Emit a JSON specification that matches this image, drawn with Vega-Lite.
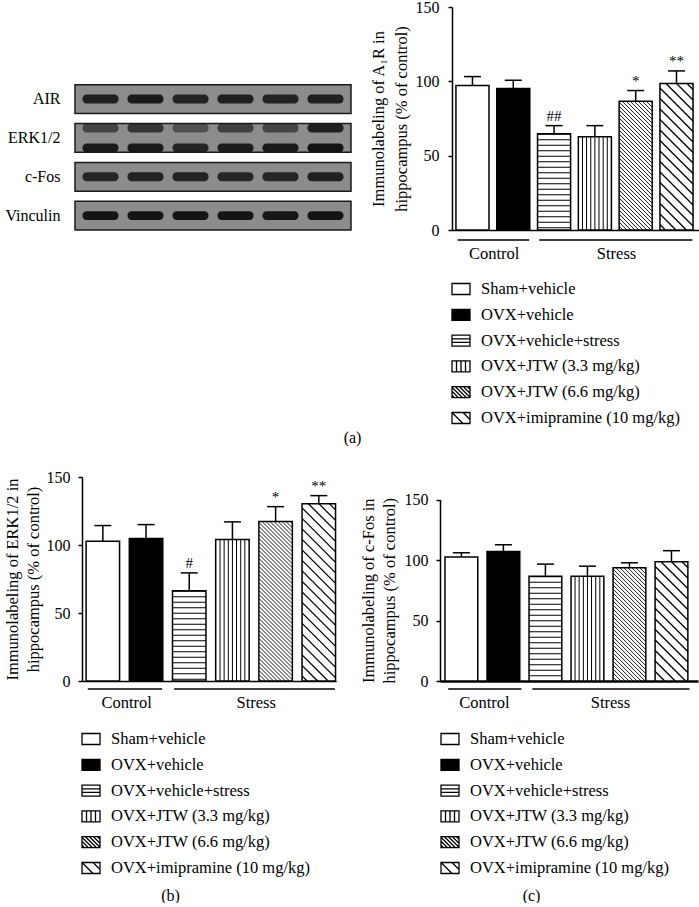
{
"$schema":"https://vega.github.io/schema/vega-lite/v6.json",
"padding":{"left":4,"top":-1,"right":0,"bottom":0},
"datasets":{
 "A":[
  {"group":"Sham+vehicle","value":97.2,"err":103.2,"sig":""},
  {"group":"OVX+vehicle","value":95.1,"err":100.7,"sig":""},
  {"group":"OVX+vehicle+stress","value":64.8,"err":70.2,"sig":"##"},
  {"group":"OVX+JTW (3.3 mg/kg)","value":62.7,"err":70.2,"sig":""},
  {"group":"OVX+JTW (6.6 mg/kg)","value":86.6,"err":93.8,"sig":"*"},
  {"group":"OVX+imipramine (10 mg/kg)","value":98.5,"err":107,"sig":"**"}
 ],
 "B":[
  {"group":"Sham+vehicle","value":102.8,"err":114.3,"sig":""},
  {"group":"OVX+vehicle","value":104.7,"err":115,"sig":""},
  {"group":"OVX+vehicle+stress","value":66.3,"err":79.5,"sig":"#"},
  {"group":"OVX+JTW (3.3 mg/kg)","value":104,"err":117,"sig":""},
  {"group":"OVX+JTW (6.6 mg/kg)","value":117.2,"err":128.2,"sig":"*"},
  {"group":"OVX+imipramine (10 mg/kg)","value":130.4,"err":136.3,"sig":"**"}
 ],
 "C":[
  {"group":"Sham+vehicle","value":102.4,"err":106,"sig":""},
  {"group":"OVX+vehicle","value":107.1,"err":112.6,"sig":""},
  {"group":"OVX+vehicle+stress","value":86.6,"err":96.6,"sig":""},
  {"group":"OVX+JTW (3.3 mg/kg)","value":86.6,"err":94.9,"sig":""},
  {"group":"OVX+JTW (6.6 mg/kg)","value":93.5,"err":97.7,"sig":""},
  {"group":"OVX+imipramine (10 mg/kg)","value":98.5,"err":107.7,"sig":""}
 ],
 "conds":[
  {"cond":"Control","first":"Sham+vehicle","last":"OVX+vehicle","anchor":"OVX+vehicle"},
  {"cond":"Stress","first":"OVX+vehicle+stress","last":"OVX+imipramine (10 mg/kg)","anchor":"OVX+JTW (6.6 mg/kg)"}
 ],
 "prot":[{"protein":"AIR"},{"protein":"ERK1/2"},{"protein":"c-Fos"},{"protein":"Vinculin"}],
 "blot":[
  {"protein":"AIR","lane":1,"sub":"m","intensity":0.9},
  {"protein":"AIR","lane":2,"sub":"m","intensity":0.95},
  {"protein":"AIR","lane":3,"sub":"m","intensity":0.88},
  {"protein":"AIR","lane":4,"sub":"m","intensity":0.9},
  {"protein":"AIR","lane":5,"sub":"m","intensity":0.88},
  {"protein":"AIR","lane":6,"sub":"m","intensity":0.9},
  {"protein":"ERK1/2","lane":1,"sub":"t","intensity":0.6},
  {"protein":"ERK1/2","lane":2,"sub":"t","intensity":0.72},
  {"protein":"ERK1/2","lane":3,"sub":"t","intensity":0.5},
  {"protein":"ERK1/2","lane":4,"sub":"t","intensity":0.62},
  {"protein":"ERK1/2","lane":5,"sub":"t","intensity":0.6},
  {"protein":"ERK1/2","lane":6,"sub":"t","intensity":0.9},
  {"protein":"ERK1/2","lane":1,"sub":"b","intensity":0.95},
  {"protein":"ERK1/2","lane":2,"sub":"b","intensity":0.95},
  {"protein":"ERK1/2","lane":3,"sub":"b","intensity":0.88},
  {"protein":"ERK1/2","lane":4,"sub":"b","intensity":0.92},
  {"protein":"ERK1/2","lane":5,"sub":"b","intensity":0.95},
  {"protein":"ERK1/2","lane":6,"sub":"b","intensity":1},
  {"protein":"c-Fos","lane":1,"sub":"m","intensity":0.85},
  {"protein":"c-Fos","lane":2,"sub":"m","intensity":0.88},
  {"protein":"c-Fos","lane":3,"sub":"m","intensity":0.88},
  {"protein":"c-Fos","lane":4,"sub":"m","intensity":0.85},
  {"protein":"c-Fos","lane":5,"sub":"m","intensity":0.85},
  {"protein":"c-Fos","lane":6,"sub":"m","intensity":0.9},
  {"protein":"Vinculin","lane":1,"sub":"m","intensity":1},
  {"protein":"Vinculin","lane":2,"sub":"m","intensity":1},
  {"protein":"Vinculin","lane":3,"sub":"m","intensity":1},
  {"protein":"Vinculin","lane":4,"sub":"m","intensity":1},
  {"protein":"Vinculin","lane":5,"sub":"m","intensity":0.98},
  {"protein":"Vinculin","lane":6,"sub":"m","intensity":1}
 ]
},
"vconcat":[
 {"hconcat":[
  {"width":276,"height":223,
   "data":{"name":"blot"},
   "layer":[
    {"data":{"name":"prot"},
     "mark":{"type":"rect","fill":"#8c8c8c","stroke":"#1a1a1a","strokeWidth":1.5},
     "encoding":{"y":{"field":"protein","type":"nominal","scale":{"domain":["AIR","ERK1/2","c-Fos","Vinculin"],"paddingInner":0.26,"paddingOuter":1.185,"align":1},"axis":{"title":null,"domain":false,"ticks":false,"labelPadding":15}}}},
    {"mark":{"type":"rect","color":"#141414","cornerRadius":4},
     "encoding":{
      "x":{"field":"lane","type":"nominal","scale":{"paddingInner":0.2,"paddingOuter":0.167},"axis":null},
      "y":{"field":"protein","type":"nominal"},
      "yOffset":{"field":"sub","type":"nominal","scale":{"domain":["t","m","b"],"paddingInner":0.1}},
      "opacity":{"field":"intensity","type":"quantitative","scale":{"domain":[0,1],"range":[0,1]},"legend":null}}}
   ]},
  {"width":249,"height":223,
   "data":{"name":"A"},
   "layer":[
    {"mark":{"type":"bar","stroke":"black","strokeWidth":1.5},
     "encoding":{
      "x":{"field":"group","type":"nominal","scale":{"domain":["Sham+vehicle","OVX+vehicle","OVX+vehicle+stress","OVX+JTW (3.3 mg/kg)","OVX+JTW (6.6 mg/kg)","OVX+imipramine (10 mg/kg)"],"paddingInner":0.19,"paddingOuter":0.146,"align":0.33},
           "axis":{"labels":false,"ticks":false,"title":"(a)","titleX":-100,"titleY":207,"titleBaseline":"middle","titleAlign":"center","titleFontSize":16,"domainWidth":1.3}},
      "y":{"field":"value","type":"quantitative","scale":{"domain":[0,150],"nice":false},
           "axis":{"values":[0,50,100,150],"title":["Immunolabeling of A₁R in","hippocampus (% of control)"],"titlePadding":6,"labelPadding":9,"labelFlush":false,"titleLineHeight":23}},
      "fill":{"field":"group","type":"nominal","scale":{"domain":["Sham+vehicle","OVX+vehicle","OVX+vehicle+stress","OVX+JTW (3.3 mg/kg)","OVX+JTW (6.6 mg/kg)","OVX+imipramine (10 mg/kg)"],"range":["white","black","white","white","white","white"]},
              "legend":{"title":null,"orient":"none","legendX":-2,"legendY":271}}}},
    {"transform":[{"filter":"datum.group === 'OVX+vehicle+stress'"}],
     "mark":{"type":"rule","strokeWidth":33,"strokeDash":[1,4.5],"color":"black"},
     "encoding":{"x":{"field":"group","type":"nominal"},"y":{"field":"value","type":"quantitative"},"y2":{"datum":0}}},
    {"transform":[{"filter":"datum.group === 'OVX+JTW (3.3 mg/kg)'"}],
     "mark":{"type":"point","size":4,"filled":false,"stroke":"black","strokeWidth":1,"opacity":1,
       "shape":"M-12.4,0V93.2M-8.3,0V93.2M-4.1,0V93.2M0,0V93.2M4.1,0V93.2M8.3,0V93.2M12.4,0V93.2"},
     "encoding":{"x":{"field":"group","type":"nominal"},"y":{"field":"value","type":"quantitative"}}},
    {"transform":[{"filter":"datum.group === 'OVX+JTW (6.6 mg/kg)'"}],
     "mark":{"type":"point","size":4,"filled":false,"stroke":"black","strokeWidth":0.9,"opacity":1,
       "shape":"M14.5,0L16.5,2M10.5,0L16.5,6M6.5,0L16.5,10M2.5,0L16.5,14M-1.5,0L16.5,18M-5.5,0L16.5,22M-9.5,0L16.5,26M-13.5,0L16.5,30M-16.5,1l33,33m-33,-29l33,33m-33,-29l33,33m-33,-29l33,33m-33,-29l33,33m-33,-29l33,33m-33,-29l33,33m-33,-29l33,33m-33,-29l33,33m-33,-29l33,33m-33,-29l33,33m-33,-29l33,33m-33,-29l33,33m-33,-29l33,33m-33,-29l33,33m-33,-29l33,33m-33,-29l33,33m-33,-29l33,33m-33,-29l33,33m-33,-29l33,33m-33,-29l33,33m-33,-29l33,33m-33,-29l33,33m-33,-29l33,33M-16.5,97L15.2,128.7M-16.5,101L11.2,128.7M-16.5,105L7.2,128.7M-16.5,109L3.2,128.7M-16.5,113L-0.8,128.7M-16.5,117L-4.8,128.7M-16.5,121L-8.8,128.7M-16.5,125L-12.8,128.7"},
     "encoding":{"x":{"field":"group","type":"nominal"},"y":{"field":"value","type":"quantitative"}}},
    {"transform":[{"filter":"datum.group === 'OVX+imipramine (10 mg/kg)'"}],
     "mark":{"type":"point","size":4,"filled":false,"stroke":"black","strokeWidth":1.3,"opacity":1,
       "shape":"M10.5,0L16.5,6M0,0L16.5,16.5M-10.5,0L16.5,27M-16.5,4.5l33,33m-33,-22.5l33,33m-33,-22.5l33,33m-33,-22.5l33,33m-33,-22.5l33,33m-33,-22.5l33,33m-33,-22.5l33,33m-33,-22.5l33,33m-33,-22.5l33,33m-33,-22.5l33,33m-33,-22.5l33,33M-16.5,120L9.9,146.4M-16.5,130.5L-0.6,146.4M-16.5,141L-11.1,146.4"},
     "encoding":{"x":{"field":"group","type":"nominal"},"y":{"field":"value","type":"quantitative"}}},
    {"mark":{"type":"point","size":0,"filled":true,"strokeWidth":0,"opacity":1},
     "encoding":{"x":{"field":"group","type":"nominal"},"y":{"field":"value","type":"quantitative"},
      "fill":{"field":"group","type":"nominal","legend":{"title":null,"orient":"none","legendX":-2,"legendY":271}},
      "shape":{"field":"group","type":"nominal","scale":{"domain":["Sham+vehicle","OVX+vehicle","OVX+vehicle+stress","OVX+JTW (3.3 mg/kg)","OVX+JTW (6.6 mg/kg)","OVX+imipramine (10 mg/kg)"],
        "range":["M-0.9,-0.55H0.9V0.55H-0.9Z","M-0.9,-0.55H0.9V0.55H-0.9Z","M-0.9,-0.55H0.9V0.55H-0.9ZM-0.9,-0.18H0.9M-0.9,0.18H0.9","M-0.9,-0.55H0.9V0.55H-0.9ZM-0.45,-0.55V0.55M0,-0.55V0.55M0.45,-0.55V0.55","M-0.9,-0.55H0.9V0.55H-0.9ZM-0.9,0.3L-0.65,0.55M-0.9,-0.1L-0.25,0.55M-0.9,-0.5L0.15,0.55M-0.55,-0.55L0.55,0.55M-0.15,-0.55L0.9,0.5M0.25,-0.55L0.9,0.1M0.65,-0.55L0.9,-0.3","M-0.9,-0.55H0.9V0.55H-0.9ZM-0.9,-0.55L0.2,0.55M0.2,-0.55L0.9,0.15"]},
        "legend":{"title":null,"orient":"none","legendX":-2,"legendY":271}}}},
    {"mark":{"type":"rule","strokeWidth":1.5,"color":"black"},
     "encoding":{"x":{"field":"group","type":"nominal"},"y":{"field":"value","type":"quantitative"},"y2":{"field":"err"}}},
    {"mark":{"type":"tick","orient":"horizontal","size":17,"thickness":1.5,"color":"black","opacity":1},
     "encoding":{"x":{"field":"group","type":"nominal"},"y":{"field":"err","type":"quantitative"}}},
    {"mark":{"type":"text","baseline":"bottom","dy":-2,"fontSize":15,"fill":"#000000","opacity":1},
     "encoding":{"x":{"field":"group","type":"nominal"},"y":{"field":"err","type":"quantitative"},"text":{"field":"sig"}}},
    {"data":{"name":"conds"},"mark":{"type":"rule","strokeWidth":1.5,"color":"black"},
     "encoding":{"x":{"field":"first","type":"nominal","bandPosition":0.05},"x2":{"field":"last","bandPosition":0.98},"y":{"datum":-6.7}}},
    {"data":{"name":"conds"},"mark":{"type":"text","fontSize":16.5,"baseline":"alphabetic","fill":"#000000"},
     "encoding":{"x":{"field":"anchor","type":"nominal","bandPosition":-0.08},"y":{"datum":-19.3},"text":{"field":"cond"}}}
   ]}
 ],"spacing":101,"bounds":"flush",
 "resolve":{"scale":{"fill":"independent","shape":"independent"}}},
 {"hconcat":[
  {"width":261,"height":204,
   "data":{"name":"B"},
   "layer":[
    {"mark":{"type":"bar","stroke":"black","strokeWidth":1.5},
     "encoding":{
      "x":{"field":"group","type":"nominal","scale":{"domain":["Sham+vehicle","OVX+vehicle","OVX+vehicle+stress","OVX+JTW (3.3 mg/kg)","OVX+JTW (6.6 mg/kg)","OVX+imipramine (10 mg/kg)"],"range":[7,261],"paddingInner":0.225,"paddingOuter":0.053,"align":0.9},
           "axis":{"labels":false,"ticks":false,"title":"(b)","titleX":95,"titleY":214,"titleBaseline":"middle","titleAlign":"center","titleFontSize":16,"domainWidth":1.6}},
      "y":{"field":"value","type":"quantitative","scale":{"domain":[0,150],"nice":false},
           "axis":{"values":[0,50,100,150],"offset":-7,"title":["Immunolabeling of ERK1/2 in","hippocampus (% of control)"],"titlePadding":5,"labelPadding":8,"labelFlush":false,"titleLineHeight":21}},
      "fill":{"field":"group","type":"nominal","scale":{"domain":["Sham+vehicle","OVX+vehicle","OVX+vehicle+stress","OVX+JTW (3.3 mg/kg)","OVX+JTW (6.6 mg/kg)","OVX+imipramine (10 mg/kg)"],"range":["white","black","white","white","white","white"]},
              "legend":{"title":null,"orient":"none","legendX":5,"legendY":251}}}},
    {"transform":[{"filter":"datum.group === 'OVX+vehicle+stress'"}],
     "mark":{"type":"rule","strokeWidth":33.4,"strokeDash":[1,4.5],"color":"black"},
     "encoding":{"x":{"field":"group","type":"nominal"},"y":{"field":"value","type":"quantitative"},"y2":{"datum":0}}},
    {"transform":[{"filter":"datum.group === 'OVX+JTW (3.3 mg/kg)'"}],
     "mark":{"type":"point","size":4,"filled":false,"stroke":"black","strokeWidth":1,"opacity":1,
       "shape":"M-12.4,0V141.4M-8.3,0V141.4M-4.1,0V141.4M0,0V141.4M4.1,0V141.4M8.3,0V141.4M12.4,0V141.4"},
     "encoding":{"x":{"field":"group","type":"nominal"},"y":{"field":"value","type":"quantitative"}}},
    {"transform":[{"filter":"datum.group === 'OVX+JTW (6.6 mg/kg)'"}],
     "mark":{"type":"point","size":4,"filled":false,"stroke":"black","strokeWidth":0.9,"opacity":1,
       "shape":"M14.5,0L16.5,2M10.5,0L16.5,6M6.5,0L16.5,10M2.5,0L16.5,14M-1.5,0L16.5,18M-5.5,0L16.5,22M-9.5,0L16.5,26M-13.5,0L16.5,30M-16.5,1l33,33m-33,-29l33,33m-33,-29l33,33m-33,-29l33,33m-33,-29l33,33m-33,-29l33,33m-33,-29l33,33m-33,-29l33,33m-33,-29l33,33m-33,-29l33,33m-33,-29l33,33m-33,-29l33,33m-33,-29l33,33m-33,-29l33,33m-33,-29l33,33m-33,-29l33,33m-33,-29l33,33m-33,-29l33,33m-33,-29l33,33m-33,-29l33,33m-33,-29l33,33m-33,-29l33,33m-33,-29l33,33m-33,-29l33,33m-33,-29l33,33m-33,-29l33,33m-33,-29l33,33m-33,-29l33,33m-33,-29l33,33m-33,-29l33,33m-33,-29l33,33m-33,-29l33,33M-16.5,129L13.9,159.4M-16.5,133L9.9,159.4M-16.5,137L5.9,159.4M-16.5,141L1.9,159.4M-16.5,145L-2.1,159.4M-16.5,149L-6.1,159.4M-16.5,153L-10.1,159.4M-16.5,157L-14.1,159.4"},
     "encoding":{"x":{"field":"group","type":"nominal"},"y":{"field":"value","type":"quantitative"}}},
    {"transform":[{"filter":"datum.group === 'OVX+imipramine (10 mg/kg)'"}],
     "mark":{"type":"point","size":4,"filled":false,"stroke":"black","strokeWidth":1.3,"opacity":1,
       "shape":"M10.5,0L16.5,6M0,0L16.5,16.5M-10.5,0L16.5,27M-16.5,4.5l33,33m-33,-22.5l33,33m-33,-22.5l33,33m-33,-22.5l33,33m-33,-22.5l33,33m-33,-22.5l33,33m-33,-22.5l33,33m-33,-22.5l33,33m-33,-22.5l33,33m-33,-22.5l33,33m-33,-22.5l33,33m-33,-22.5l33,33m-33,-22.5l33,33m-33,-22.5l33,33M-16.5,151.5L9.3,177.3M-16.5,162L-1.2,177.3M-16.5,172.5L-11.7,177.3"},
     "encoding":{"x":{"field":"group","type":"nominal"},"y":{"field":"value","type":"quantitative"}}},
    {"mark":{"type":"point","size":0,"filled":true,"strokeWidth":0,"opacity":1},
     "encoding":{"x":{"field":"group","type":"nominal"},"y":{"field":"value","type":"quantitative"},
      "fill":{"field":"group","type":"nominal","legend":{"title":null,"orient":"none","legendX":5,"legendY":251}},
      "shape":{"field":"group","type":"nominal","scale":{"domain":["Sham+vehicle","OVX+vehicle","OVX+vehicle+stress","OVX+JTW (3.3 mg/kg)","OVX+JTW (6.6 mg/kg)","OVX+imipramine (10 mg/kg)"],
        "range":["M-0.9,-0.55H0.9V0.55H-0.9Z","M-0.9,-0.55H0.9V0.55H-0.9Z","M-0.9,-0.55H0.9V0.55H-0.9ZM-0.9,-0.18H0.9M-0.9,0.18H0.9","M-0.9,-0.55H0.9V0.55H-0.9ZM-0.45,-0.55V0.55M0,-0.55V0.55M0.45,-0.55V0.55","M-0.9,-0.55H0.9V0.55H-0.9ZM-0.9,0.3L-0.65,0.55M-0.9,-0.1L-0.25,0.55M-0.9,-0.5L0.15,0.55M-0.55,-0.55L0.55,0.55M-0.15,-0.55L0.9,0.5M0.25,-0.55L0.9,0.1M0.65,-0.55L0.9,-0.3","M-0.9,-0.55H0.9V0.55H-0.9ZM-0.9,-0.55L0.2,0.55M0.2,-0.55L0.9,0.15"]},
        "legend":{"title":null,"orient":"none","legendX":5,"legendY":251}}}},
    {"mark":{"type":"rule","strokeWidth":1.5,"color":"black"},
     "encoding":{"x":{"field":"group","type":"nominal"},"y":{"field":"value","type":"quantitative"},"y2":{"field":"err"}}},
    {"mark":{"type":"tick","orient":"horizontal","size":17,"thickness":1.5,"color":"black","opacity":1},
     "encoding":{"x":{"field":"group","type":"nominal"},"y":{"field":"err","type":"quantitative"}}},
    {"mark":{"type":"text","baseline":"bottom","dy":-2,"fontSize":15,"fill":"#000000","opacity":1},
     "encoding":{"x":{"field":"group","type":"nominal"},"y":{"field":"err","type":"quantitative"},"text":{"field":"sig"}}},
    {"data":{"name":"conds"},"mark":{"type":"rule","strokeWidth":1.5,"color":"black"},
     "encoding":{"x":{"field":"first","type":"nominal","bandPosition":0.05},"x2":{"field":"last","bandPosition":0.98},"y":{"datum":-5.9}}},
    {"data":{"name":"conds"},"mark":{"type":"text","fontSize":16.5,"baseline":"alphabetic","fill":"#000000"},
     "encoding":{"x":{"field":"anchor","type":"nominal","bandPosition":-0.08},"y":{"datum":-19.5},"text":{"field":"cond"}}}
   ]},
  {"width":258,"height":204,
   "data":{"name":"C"},
   "layer":[
    {"mark":{"type":"bar","stroke":"black","strokeWidth":1.5},
     "encoding":{
      "x":{"field":"group","type":"nominal","scale":{"domain":["Sham+vehicle","OVX+vehicle","OVX+vehicle+stress","OVX+JTW (3.3 mg/kg)","OVX+JTW (6.6 mg/kg)","OVX+imipramine (10 mg/kg)"],"paddingInner":0.22,"paddingOuter":0.18,"align":0.33},
           "axis":{"labels":false,"ticks":false,"title":"(c)","titleX":91,"titleY":214,"titleBaseline":"middle","titleAlign":"center","titleFontSize":16,"domainWidth":2.4}},
      "y":{"field":"value","type":"quantitative","scale":{"domain":[0,150],"nice":false,"range":[204,22.5]},
           "axis":{"values":[0,50,100,150],"title":["Immunolabeling of c-Fos in","hippocampus (% of control)"],"titlePadding":7,"labelPadding":8,"labelFlush":false,"titleLineHeight":21}},
      "fill":{"field":"group","type":"nominal","scale":{"domain":["Sham+vehicle","OVX+vehicle","OVX+vehicle+stress","OVX+JTW (3.3 mg/kg)","OVX+JTW (6.6 mg/kg)","OVX+imipramine (10 mg/kg)"],"range":["white","black","white","white","white","white"]},
              "legend":{"title":null,"orient":"none","legendX":-1,"legendY":251}}}},
    {"transform":[{"filter":"datum.group === 'OVX+vehicle+stress'"}],
     "mark":{"type":"rule","strokeWidth":32.8,"strokeDash":[1,4.5],"color":"black"},
     "encoding":{"x":{"field":"group","type":"nominal"},"y":{"field":"value","type":"quantitative"},"y2":{"datum":0}}},
    {"transform":[{"filter":"datum.group === 'OVX+JTW (3.3 mg/kg)'"}],
     "mark":{"type":"point","size":4,"filled":false,"stroke":"black","strokeWidth":1,"opacity":1,
       "shape":"M-12.4,0V104.8M-8.3,0V104.8M-4.1,0V104.8M0,0V104.8M4.1,0V104.8M8.3,0V104.8M12.4,0V104.8"},
     "encoding":{"x":{"field":"group","type":"nominal"},"y":{"field":"value","type":"quantitative"}}},
    {"transform":[{"filter":"datum.group === 'OVX+JTW (6.6 mg/kg)'"}],
     "mark":{"type":"point","size":4,"filled":false,"stroke":"black","strokeWidth":0.9,"opacity":1,
       "shape":"M14.5,0L16.5,2M10.5,0L16.5,6M6.5,0L16.5,10M2.5,0L16.5,14M-1.5,0L16.5,18M-5.5,0L16.5,22M-9.5,0L16.5,26M-13.5,0L16.5,30M-16.5,1l33,33m-33,-29l33,33m-33,-29l33,33m-33,-29l33,33m-33,-29l33,33m-33,-29l33,33m-33,-29l33,33m-33,-29l33,33m-33,-29l33,33m-33,-29l33,33m-33,-29l33,33m-33,-29l33,33m-33,-29l33,33m-33,-29l33,33m-33,-29l33,33m-33,-29l33,33m-33,-29l33,33m-33,-29l33,33m-33,-29l33,33m-33,-29l33,33M-16.5,81L15.6,113.1M-16.5,85L11.6,113.1M-16.5,89L7.6,113.1M-16.5,93L3.6,113.1M-16.5,97L-0.4,113.1M-16.5,101L-4.4,113.1M-16.5,105L-8.4,113.1M-16.5,109L-12.4,113.1"},
     "encoding":{"x":{"field":"group","type":"nominal"},"y":{"field":"value","type":"quantitative"}}},
    {"transform":[{"filter":"datum.group === 'OVX+imipramine (10 mg/kg)'"}],
     "mark":{"type":"point","size":4,"filled":false,"stroke":"black","strokeWidth":1.3,"opacity":1,
       "shape":"M10.5,0L16.5,6M0,0L16.5,16.5M-10.5,0L16.5,27M-16.5,4.5l33,33m-33,-22.5l33,33m-33,-22.5l33,33m-33,-22.5l33,33m-33,-22.5l33,33m-33,-22.5l33,33m-33,-22.5l33,33m-33,-22.5l33,33M-16.5,88.5L14.2,119.2M-16.5,99L3.7,119.2M-16.5,109.5L-6.8,119.2"},
     "encoding":{"x":{"field":"group","type":"nominal"},"y":{"field":"value","type":"quantitative"}}},
    {"mark":{"type":"point","size":0,"filled":true,"strokeWidth":0,"opacity":1},
     "encoding":{"x":{"field":"group","type":"nominal"},"y":{"field":"value","type":"quantitative"},
      "fill":{"field":"group","type":"nominal","legend":{"title":null,"orient":"none","legendX":-1,"legendY":251}},
      "shape":{"field":"group","type":"nominal","scale":{"domain":["Sham+vehicle","OVX+vehicle","OVX+vehicle+stress","OVX+JTW (3.3 mg/kg)","OVX+JTW (6.6 mg/kg)","OVX+imipramine (10 mg/kg)"],
        "range":["M-0.9,-0.55H0.9V0.55H-0.9Z","M-0.9,-0.55H0.9V0.55H-0.9Z","M-0.9,-0.55H0.9V0.55H-0.9ZM-0.9,-0.18H0.9M-0.9,0.18H0.9","M-0.9,-0.55H0.9V0.55H-0.9ZM-0.45,-0.55V0.55M0,-0.55V0.55M0.45,-0.55V0.55","M-0.9,-0.55H0.9V0.55H-0.9ZM-0.9,0.3L-0.65,0.55M-0.9,-0.1L-0.25,0.55M-0.9,-0.5L0.15,0.55M-0.55,-0.55L0.55,0.55M-0.15,-0.55L0.9,0.5M0.25,-0.55L0.9,0.1M0.65,-0.55L0.9,-0.3","M-0.9,-0.55H0.9V0.55H-0.9ZM-0.9,-0.55L0.2,0.55M0.2,-0.55L0.9,0.15"]},
        "legend":{"title":null,"orient":"none","legendX":-1,"legendY":251}}}},
    {"mark":{"type":"rule","strokeWidth":1.5,"color":"black"},
     "encoding":{"x":{"field":"group","type":"nominal"},"y":{"field":"value","type":"quantitative"},"y2":{"field":"err"}}},
    {"mark":{"type":"tick","orient":"horizontal","size":17,"thickness":1.5,"color":"black","opacity":1},
     "encoding":{"x":{"field":"group","type":"nominal"},"y":{"field":"err","type":"quantitative"}}},
    {"data":{"name":"conds"},"mark":{"type":"rule","strokeWidth":1.5,"color":"black"},
     "encoding":{"x":{"field":"first","type":"nominal","bandPosition":0.1},"x2":{"field":"last","bandPosition":1.05},"y":{"datum":-6.6}}},
    {"data":{"name":"conds"},"mark":{"type":"text","fontSize":16.5,"baseline":"alphabetic","fill":"#000000"},
     "encoding":{"x":{"field":"anchor","type":"nominal","bandPosition":-0.08},"y":{"datum":-22.3},"text":{"field":"cond"}}}
   ]}
 ],"spacing":104,"bounds":"flush",
 "resolve":{"scale":{"fill":"independent","shape":"independent"}}}
],
"spacing":470,
"bounds":"flush",
"resolve":{"scale":{"fill":"independent","shape":"independent"}},
"config":{
 "view":{"stroke":null},
 "font":"Liberation Serif",
 "axis":{"labelFont":"Liberation Serif","titleFont":"Liberation Serif","labelFontSize":16,"titleFontSize":16.5,"titleFontWeight":"normal","labelColor":"black","titleColor":"black","domainColor":"black","tickColor":"black","grid":false,"domainWidth":1.5,"tickWidth":1.5,"tickSize":4,"labelPadding":8},
 "legend":{"labelFont":"Liberation Serif","labelFontSize":16.5,"labelColor":"black","symbolSize":400,"labelOffset":9,"rowPadding":5.8,"labelLimit":0,"padding":0,"symbolStrokeColor":"black","symbolStrokeWidth":1.3},
 "text":{"font":"Liberation Serif","color":"black"}
}
}
